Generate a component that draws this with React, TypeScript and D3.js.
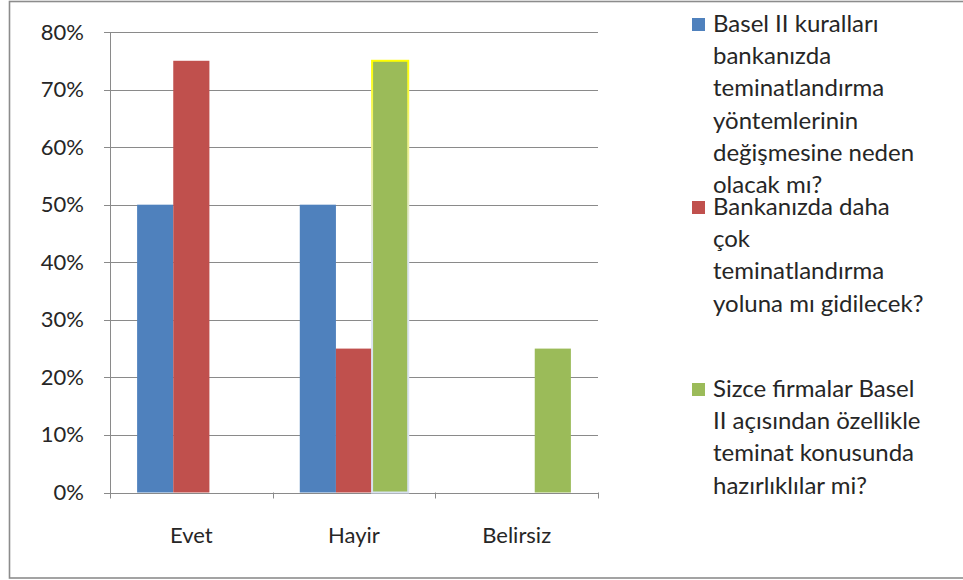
import React from "react";
import * as d3 from "d3";

const categories = ["Evet", "Hayir", "Belirsiz"];
const seriesNames = [
  "Basel II kuralları bankanızda teminatlandırma yöntemlerinin değişmesine neden olacak mı?",
  "Bankanızda daha çok teminatlandırma yoluna mı gidilecek?",
  "Sizce firmalar Basel II açısından özellikle teminat konusunda hazırlıklılar mi?",
];
const legendLines = [
  ["Basel II kuralları", "bankanızda", "teminatlandırma", "yöntemlerinin", "değişmesine neden", "olacak mı?"],
  ["Bankanızda daha", "çok", "teminatlandırma", "yoluna mı gidilecek?"],
  ["Sizce firmalar Basel", "II açısından özellikle", "teminat konusunda", "hazırlıklılar mi?"],
];
const seriesA = [0.5, 0.5, 0];
const seriesB = [0.75, 0.25, 0];
const seriesC = [0, 0.75, 0.25];
const yTicks = [0, 0.1, 0.2, 0.3, 0.4, 0.5, 0.6, 0.7, 0.8];
const colors = ["#4F81BD", "#C0504D", "#9BBB59"];

const W = 963;
const H = 580;
const plotL = 110;
const plotR = 598;
const plotT = 32;
const plotB = 492.5;
const FONT = "Lato, 'Open Sans', sans-serif";

export default function App() {
  const values = [seriesA, seriesB, seriesC];
  const x0 = d3.scaleBand<string>().domain(categories).range([plotL, plotR]).padding(0);
  const bw = x0.bandwidth() / 4.5;
  const x1 = d3
    .scaleBand<number>()
    .domain([0, 1, 2])
    .range([0.75 * bw, 3.75 * bw])
    .padding(0);
  const y = d3.scaleLinear().domain([0, 0.8]).range([plotB, plotT]);
  const fmt = d3.format(".0%");
  const legendY = [32, 215, 397];
  const lineH = 32.2;

  return (
    <svg
      width={W}
      height={H}
      style={{ position: "absolute", left: 0, top: 0, display: "block", background: "#fff" }}
    >
      <defs>
        <linearGradient id="hl" x1="0" y1="0" x2="0" y2="1">
          <stop offset="0" stopColor="#ffff00" />
          <stop offset="0.15" stopColor="#f2f37a" />
          <stop offset="0.45" stopColor="#dde5f0" />
          <stop offset="1" stopColor="#d8e2f0" />
        </linearGradient>
      </defs>
      <rect x={9.5} y={1.5} width={980} height={576.5} fill="#fff" stroke="#8c8c8c" strokeWidth={1.6} />
      {yTicks.map((t) => (
        <line
          key={"g" + t}
          x1={plotL - 6}
          x2={plotR}
          y1={Math.round(y(t)) + 0.5}
          y2={Math.round(y(t)) + 0.5}
          stroke="#8a8a8a"
          strokeWidth={1}
        />
      ))}
      <line x1={plotL + 0.5} x2={plotL + 0.5} y1={plotT} y2={plotB + 6} stroke="#8a8a8a" />
      {categories.map((c) => (
        <line
          key={"xt" + c}
          x1={Math.round((x0(c) as number) + x0.bandwidth()) + 0.5}
          x2={Math.round((x0(c) as number) + x0.bandwidth()) + 0.5}
          y1={plotB}
          y2={plotB + 6}
          stroke="#8a8a8a"
        />
      ))}
      {values.map((vals, si) =>
        vals.map((v, ci) => {
          if (v <= 0) return null;
          const xx = (x0(categories[ci]) as number) + (x1(si) as number);
          const highlight = si === 2 && ci === 1;
          return (
            <rect
              key={si + "-" + ci}
              x={xx}
              y={y(v)}
              width={x1.bandwidth()}
              height={plotB - y(v)}
              fill={colors[si]}
              stroke={highlight ? "url(#hl)" : "none"}
              strokeWidth={highlight ? 2 : 0}
            />
          );
        })
      )}
      {yTicks.map((t) => (
        <text
          key={"yl" + t}
          x={84}
          y={y(t) + 7.5}
          textAnchor="end"
          fontFamily={FONT}
          fontSize={22}
          fill="#262626"
        >
          {fmt(t)}
        </text>
      ))}
      {categories.map((c) => (
        <text
          key={"xl" + c}
          x={(x0(c) as number) + x0.bandwidth() / 2}
          y={543}
          textAnchor="middle"
          fontFamily={FONT}
          fontSize={22}
          fill="#262626"
        >
          {c}
        </text>
      ))}
      {legendLines.map((lines, si) => (
        <g key={"lg" + si}>
          <title>{seriesNames[si]}</title>
          <rect x={692} y={legendY[si] - 14} width={13} height={13} fill={colors[si]} />
          {lines.map((ln, li) => (
            <text
              key={li}
              x={713}
              y={legendY[si] + li * lineH}
              fontFamily={FONT}
              fontSize={24}
              fill="#262626"
            >
              {ln}
            </text>
          ))}
        </g>
      ))}
    </svg>
  );
}
